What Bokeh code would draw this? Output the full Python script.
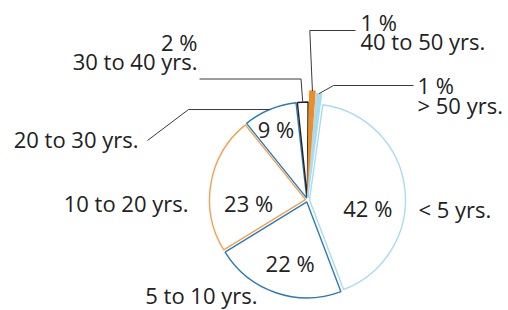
import math
from bokeh.plotting import figure
from bokeh.models import Range1d, ColumnDataSource
from bokeh.embed import file_html
from bokeh.resources import INLINE
from bokeh.core.properties import value

# ---------------- data ----------------
categories = ["< 5 yrs.", "5 to 10 yrs.", "10 to 20 yrs.", "20 to 30 yrs.",
              "30 to 40 yrs.", "40 to 50 yrs.", "> 50 yrs."]
shares = [42, 22, 23, 9, 2, 1, 1]
pct_labels = [f"{v} %" for v in shares]

# ---------------- style / layout ----------------
line_colors = ["#a9dcee", "#2b7bba", "#f5a04c", "#2b7bba", "#222222", "#f08c25", "#a9dcee"]
fill_colors = ["#ffffff", "#ffffff", "#ffffff", "#ffffff", "#ffffff", "#f08c25", "#a9dcee"]
FONT = value("Open Sans")
FSIZE = "22px"
TXT = "#222222"
TEXT_DY = 8.4                    # baseline correction for the svg text rendering

W, H = 508, 310
OX, OY = 0, 0                    # page offset of the plot frame
CX, CY = 307.0, 199.5            # page pixel coordinates of pie centre
RADII = [96, 96, 96, 96, 96, 107, 105]
PAD = [0, 0, 0, 0, 0.4, 0.4, 0.4]  # angular gap (deg) on each side of thin slices
EXPLODE = 2.0
START = 8.0                      # degrees clockwise from 12 o'clock


def Y(py):
    return -py


def TY(py):
    return -(py - TEXT_DY)


total = float(sum(shares))
bounds = []
acc = START
for v in shares:
    a0 = acc
    acc += v / total * 360.0
    bounds.append((a0, acc))

xs, ys, rs, sa, ea, mids = [], [], [], [], [], []
for (a0, a1), r, pad in zip(bounds, RADII, PAD):
    mid = (a0 + a1) / 2.0
    mids.append(mid)
    m = math.radians(mid)
    xs.append(CX + EXPLODE * math.sin(m))
    ys.append(Y(CY) + EXPLODE * math.cos(m))
    rs.append(r)
    sa.append(math.radians(90.0 - (a1 - pad)))
    ea.append(math.radians(90.0 - (a0 + pad)))

src = ColumnDataSource(dict(x=xs, y=ys, r=rs, sa=sa, ea=ea,
                            lc=line_colors, fc=fill_colors, cat=categories))

p = figure(width=W, height=H, output_backend="svg", toolbar_location=None,
           x_range=Range1d(OX, OX + W), y_range=Range1d(Y(OY + H), Y(OY)),
           min_border=0, outline_line_color=None,
           background_fill_color="white", border_fill_color="white")
p.xaxis.visible = False
p.yaxis.visible = False
p.grid.visible = False

p.wedge(x="x", y="y", radius="r", start_angle="sa", end_angle="ea",
        fill_color="fc", line_color="lc", line_width=1.4, source=src)


def polar(angle_deg, r):
    a = math.radians(angle_deg)
    return CX + r * math.sin(a), CY - r * math.cos(a)   # page coords


# inside percentage labels (first four slices)
in_shift = [15.0, -3.5, -13.7, -1.5]
in_r = [61.0, 66.0, 59.0, 77.0]
lx, ly, lt = [], [], []
for i in range(4):
    x, py = polar(mids[i] + in_shift[i], in_r[i])
    lx.append(x)
    ly.append(TY(py + 7.5))
    lt.append(pct_labels[i])
p.text(x=lx, y=ly, text=lt, text_font=FONT, text_font_size=FSIZE,
       text_align="center", text_baseline="alphabetic", text_color=TXT)

# outer category labels for the big slices
out_pos = [(418, 216.5, "left"), (257, 302.5, "right"), (188, 211, "right"), (138, 146.5, "right")]
for i, (x, y, al) in enumerate(out_pos):
    p.text(x=[x], y=[TY(y)], text=[categories[i]], text_font=FONT, text_font_size=FSIZE,
           text_align=al, text_baseline="alphabetic", text_color=TXT)

# two-line callout labels for the small slices
callouts = {
    4: dict(x=197, y1=50, y2=68.5, align="right"),
    5: dict(x=360, y1=30, y2=49.3, align="left"),
    6: dict(x=417, y1=92.7, y2=113.3, align="left"),
}
for i, c in callouts.items():
    p.text(x=[c["x"], c["x"]], y=[TY(c["y1"]), TY(c["y2"])],
           text=[pct_labels[i], categories[i]], text_font=FONT, text_font_size=FSIZE,
           text_align=c["align"], text_baseline="alphabetic", text_color=TXT)

# leader lines: anchored on each slice's outer arc midpoint
lead_x, lead_y = [], []
# 20 to 30 yrs.
ax, ay = polar(mids[3], RADII[3] + EXPLODE)
lead_x.append([147, 188, ax]); lead_y.append([Y(140), Y(ay), Y(ay)])
# 30 to 40 yrs.
ax, ay = polar(mids[4], RADII[4] + EXPLODE + 0.5)
lead_x.append([199, 300.5, ax]); lead_y.append([Y(78.5), Y(78.5), Y(ay)])
# 40 to 50 yrs.
ax, ay = polar(mids[5], RADII[5] + EXPLODE)
lead_x.append([355, 309.3, ax]); lead_y.append([Y(30), Y(30), Y(ay)])
# > 50 yrs.
ax, ay = polar(mids[6], RADII[6] + EXPLODE)
lead_x.append([413, 333, ax]); lead_y.append([Y(85), Y(85), Y(ay)])

p.multi_line(xs=lead_x, ys=lead_y, line_color="#3a3a3a", line_width=1)

open("out.html", "w").write(file_html(p, INLINE))
